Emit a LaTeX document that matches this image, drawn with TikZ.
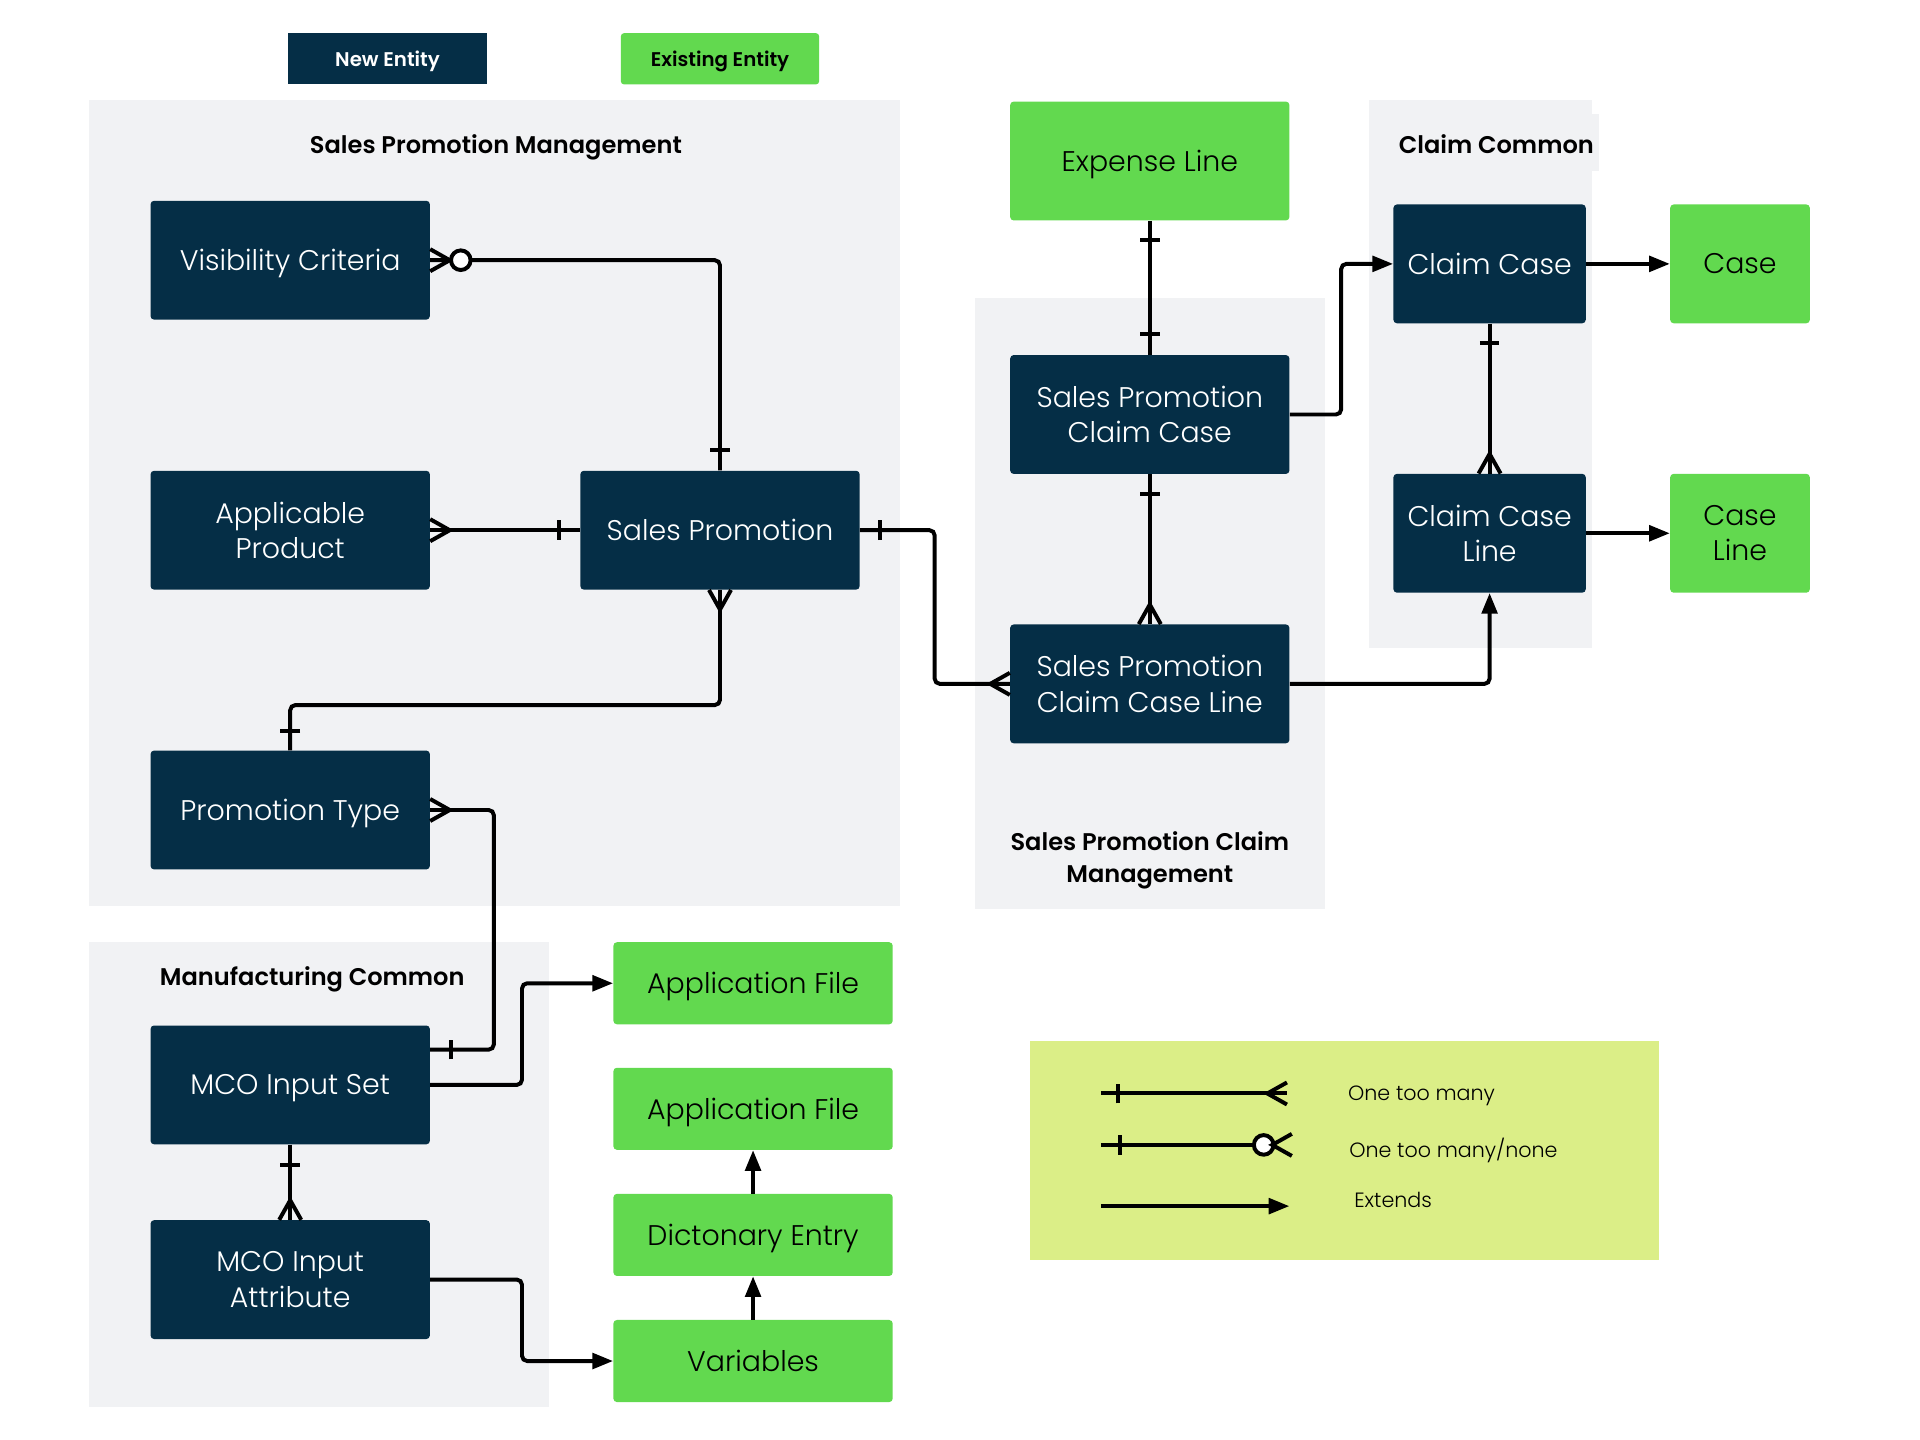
\documentclass[tikz,border=0pt]{standalone}
\usepackage{fontspec}
\setmainfont{Poppins}[UprightFont={* Light}, BoldFont={* SemiBold}]
\usetikzlibrary{calc,arrows.meta}
\definecolor{navy}{HTML}{052E46}
\definecolor{entgreen}{HTML}{62D94F}
\definecolor{groupgray}{HTML}{F1F2F4}
\definecolor{legendlime}{HTML}{DBEE87}
\tikzset{
  newent/.style={fill=navy, text=white, rounded corners=2pt, minimum width=5.7cm, minimum height=2.425cm, align=center, text depth=0pt, font=\fontsize{16.5}{20.5}\selectfont},
  oldent/.style={fill=entgreen, text=black, rounded corners=2pt, minimum width=5.7cm, minimum height=1.675cm, align=center, text depth=0pt, font=\fontsize{16.5}{20.5}\selectfont},
  relline/.style={line width=2.3pt, rounded corners=3pt},
  extends/.style={relline, -{Triangle[length=12pt,width=9pt]}},
  grouptitle/.style={font=\bfseries\fontsize{14}{18.5}\selectfont, align=center, text depth=0pt},
  keytext/.style={anchor=west, text depth=0pt, font=\fontsize{12}{15}\selectfont}
}
\def\crowfoot(#1:#2){\draw[line width=2.3pt, shift={(#1)}, rotate=#2] (0,9) -- (16,0) -- (0,-9);}
\def\onemark(#1:#2:#3){\draw[line width=2.3pt, shift={(#1)}, rotate=#2] (#3,8) -- (#3,-8);}
\def\zeromark(#1:#2:#3){\draw[line width=2.3pt, fill=white, shift={(#1)}, rotate=#2] (#3,0) circle (8);}

\begin{document}
\begin{tikzpicture}[x=0.025cm, y=-0.025cm]
  \useasboundingbox (0,0) rectangle (1568,1176);

  %%%%% GROUPS %%%%%
  \fill[groupgray] (73,82) rectangle (735,740);
  \fill[groupgray] (796,243) rectangle (1082,742);
  \fill[groupgray] (1118,82) rectangle (1300,529);
  \fill[groupgray] (1118,93) rectangle (1306,140);
  \fill[groupgray] (73,769) rectangle (448,1149);

  \node[grouptitle] (spmtitle) at (405,118) {Sales Promotion Management};
  \node[grouptitle] (cctitle) at (1222,118) {Claim Common};
  \node[grouptitle] (mctitle) at (255,797) {Manufacturing Common};
  \node[grouptitle] (spcmtitle) at (939,700) {Sales Promotion Claim\\Management};

  %%%%% KEY %%%%%
  \node[fill=navy, text=white, minimum width=4.075cm, minimum height=1.05cm, text depth=0pt, font=\bfseries\fontsize{11.5}{12}\selectfont] (newkey) at (316.5,48) {New Entity};
  \node[fill=entgreen, rounded corners=2pt, minimum width=4.05cm, minimum height=1.05cm, text depth=0pt, font=\bfseries\fontsize{11.5}{12}\selectfont] (oldkey) at (588,48) {Existing Entity};

  %%%%% ENTITIES %%%%%
  \node[newent] (vis) at (237,212.5) {Visibility Criteria};
  \node[newent] (appprod) at (237,433) {Applicable\\Product};
  \node[newent] (salesprom) at (588,433) {Sales Promotion};
  \node[newent] (promtype) at (237,661.5) {Promotion Type};
  \node[newent] (mcoset) at (237,886) {MCO Input Set};
  \node[newent] (mcoattr) at (237,1045) {MCO Input\\Attribute};

  \node[oldent, minimum height=2.425cm] (expline) at (939,131.5) {Expense Line};
  \node[newent] (spcc) at (939,338.5) {Sales Promotion\\Claim Case};
  \node[newent] (spccl) at (939,558.5) {Sales Promotion\\Claim Case Line};

  \node[newent, minimum width=3.925cm] (claimcase) at (1216.5,215.5) {Claim Case};
  \node[newent, minimum width=3.925cm] (ccline) at (1216.5,435.5) {Claim Case\\Line};
  \node[oldent, minimum width=2.85cm, minimum height=2.425cm] (case) at (1421,215.5) {Case};
  \node[oldent, minimum width=2.85cm, minimum height=2.425cm] (caseline) at (1421,435.5) {Case\\Line};

  \node[oldent] (appfile) at (615,803) {Application File};
  \node[oldent] (appfileb) at (615,905.5) {Application File};
  \node[oldent] (dictentry) at (615,1008.5) {Dictonary Entry};
  \node[oldent] (variables) at (615,1111.5) {Variables};

  %%%%% RELATIONS %%%%%
  \draw[relline] (vis.east) -| (salesprom.north);
  \crowfoot(vis.east:0);
  \zeromark(vis.east:0:25);
  \onemark(salesprom.north:90:17);

  \draw[relline] (appprod.east) -- (salesprom.west);
  \crowfoot(appprod.east:0);
  \onemark(salesprom.west:180:17);

  \draw[relline] (salesprom.south) -- ++(0,94) -| (promtype.north);
  \crowfoot(salesprom.south:-90);
  \onemark(promtype.north:90:16);

  \draw[relline] (salesprom.east) -- ++(61,0) |- (spccl.west);
  \onemark(salesprom.east:0:16);
  \crowfoot(spccl.west:180);

  \draw[relline] (expline.south) -- (spcc.north);
  \onemark(expline.south:-90:16);
  \onemark(spcc.north:90:17);

  \draw[relline] (spcc.south) -- (spccl.north);
  \onemark(spcc.south:-90:16);
  \crowfoot(spccl.north:90);

  \draw[extends] (spcc.east) -- ++(42,0) |- (claimcase.west);
  \draw[extends] (claimcase.east) -- (case.west);

  \draw[relline] (claimcase.south) -- (ccline.north);
  \onemark(claimcase.south:-90:16);
  \crowfoot(ccline.north:90);

  \draw[extends] (ccline.east) -- (caseline.west);
  \draw[extends] (spccl.east) -| (ccline.south);

  \draw[relline] (promtype.east) -- ++(52,0) |- ($(mcoset.north east)+(0,20)$);
  \crowfoot(promtype.east:0);
  \onemark($(mcoset.north east)+(0,20)$:0:17);

  \draw[extends] (mcoset.east) -- ++(75,0) |- (appfile.west);

  \draw[relline] (mcoset.south) -- (mcoattr.north);
  \onemark(mcoset.south:-90:17);
  \crowfoot(mcoattr.north:90);

  \draw[extends] (mcoattr.east) -- ++(75,0) |- (variables.west);
  \draw[extends] (dictentry.north) -- (appfileb.south);
  \draw[extends] (variables.north) -- (dictentry.south);

  %%%%% LEGEND %%%%%
  \fill[legendlime] (841,850) rectangle (1355,1029);

  \draw[relline] (899,893) -- (1051,893);
  \onemark(899,893:0:14);
  \crowfoot(1051,893:180);
  \node[keytext] (manytext) at (1096,893) {One too many};

  \draw[relline] (899,935) -- (1040,935);
  \onemark(899,935:0:16);
  \zeromark(1055,935:180:23);
  \crowfoot(1055,935:180);
  \node[keytext] (nonetext) at (1097,937) {One too many/none};

  \draw[extends] (899,985) -- (1053,985);
  \node[keytext] (extendtext) at (1101,980) {Extends};
\end{tikzpicture}
\end{document}
